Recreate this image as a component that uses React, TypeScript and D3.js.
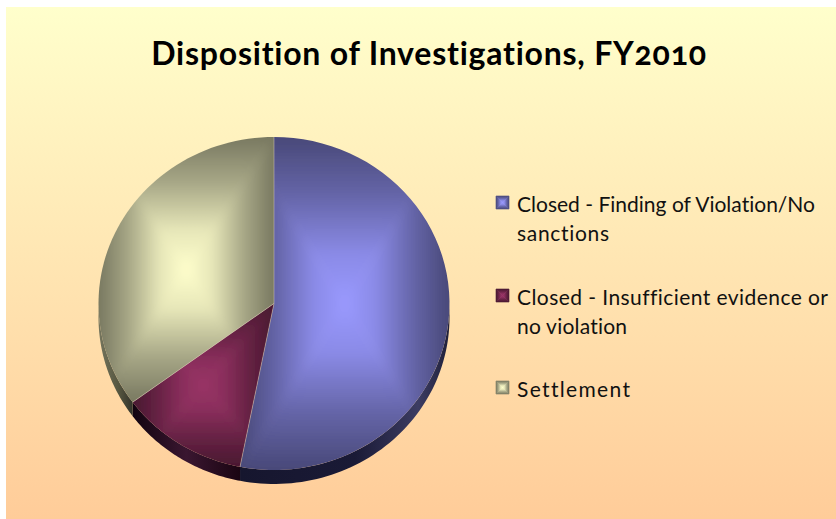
import React from 'react';
import * as d3 from 'd3';

const categories = ['Closed - Finding of Violation/No sanctions', 'Closed - Insufficient evidence or no violation', 'Settlement'];
const values = [53.1, 11.8, 35.1];
const legendLines = [['Closed - Finding of Violation/No', 'sanctions'], ['Closed - Insufficient evidence or', 'no violation'], ['Settlement']];
const legendWidths = [[298, 92], [311, 110], [113]];
const baseColors = ['#9999ff', '#993366', '#ffffcc'];
const title = 'Disposition of Investigations, FY2010';

const width = 836;
const height = 519;
const cx = 274;
const cy = 303.5;
const rx = 175.5;
const ry = 166.5;
const depth = 14;

const pie = d3.pie<number>().sort(null).startAngle(0).endAngle(2 * Math.PI);
const arcs = pie(values);

const pt = (a: number, dy = 0): [number, number] => [cx + rx * Math.sin(a), cy - ry * Math.cos(a) + dy];
const line = d3.line();
const sample = (a0: number, a1: number) => d3.range(0, 61).map(i => a0 + (a1 - a0) * i / 60);

const shade = (c: string, k: number) => {
  const r = d3.rgb(c);
  return d3.rgb(r.r * k, r.g * k, r.b * k).formatHex();
};

// rectangular "path" gradient, four triangles meeting at the box centre
function RectGlow({ id, box, color, clip, blur }: { id: string; box: number[]; color: string; clip?: string; blur?: number }) {
  const [x0, y0, x1, y1] = box;
  const fx = (x0 + x1) / 2;
  const fy = (y0 + y1) / 2;
  // corners pushed outwards so the blur has something to eat at the box edge
  const out = (x: number, y: number): [number, number] => blur ? [fx + (x - fx) * 1.3, fy + (y - fy) * 1.3] : [x, y];
  const sides = [
    { pts: [out(x0, y0), out(x1, y0), [fx, fy]], g: [fx, y0, fx, fy] },
    { pts: [out(x1, y0), out(x1, y1), [fx, fy]], g: [x1, fy, fx, fy] },
    { pts: [out(x1, y1), out(x0, y1), [fx, fy]], g: [fx, y1, fx, fy] },
    { pts: [out(x0, y1), out(x0, y0), [fx, fy]], g: [x0, fy, fx, fy] },
  ];
  return (
    <g clipPath={clip}>
      <defs>
        {sides.map((s, i) => (
          <linearGradient key={i} id={`${id}-${i}`} gradientUnits="userSpaceOnUse" x1={s.g[0]} y1={s.g[1]} x2={s.g[2]} y2={s.g[3]}>
            <stop offset="0" stopColor={shade(color, 0.47)} />
            <stop offset="0.35" stopColor={shade(color, 0.66)} />
            <stop offset="0.7" stopColor={shade(color, 0.9)} />
            <stop offset="1" stopColor={color} />
          </linearGradient>
        ))}
        {blur ? <filter id={`${id}-soft`} x="-10%" y="-10%" width="120%" height="120%"><feGaussianBlur stdDeviation={blur} /></filter> : null}
      </defs>
      <g filter={blur ? `url(#${id}-soft)` : undefined}>
        {sides.map((s, i) => (
          <path key={i} d={line(s.pts as [number, number][]) + 'Z'} fill={`url(#${id}-${i})`} stroke={`url(#${id}-${i})`} strokeWidth={0.6} />
        ))}
      </g>
    </g>
  );
}

const wallStops = [
  [[0, '#16162e'], [0.55, '#1a1a36'], [0.85, '#3c3c62'], [1, '#20203a']],
  [[0, '#120410'], [0.5, '#3a1630'], [1, '#1a0512']],
  [[0, '#76765e'], [0.6, '#55553f'], [1, '#33332a']],
] as [number, string][][];

export default function App() {
  const faces = arcs.map(d => {
    const arcPts = sample(d.startAngle, d.endAngle).map(a => pt(a));
    const all: [number, number][] = [[cx, cy], ...arcPts];
    const xs = all.map(p => p[0]);
    const ys = all.map(p => p[1]);
    return { d: line(all) + 'Z', box: [d3.min(xs)!, d3.min(ys)!, d3.max(xs)!, d3.max(ys)!] };
  });

  // only the part of each slice facing down gets a visible wall
  const walls = arcs.map(d => {
    const a0 = Math.max(d.startAngle, Math.PI / 2);
    const a1 = Math.min(d.endAngle, Math.PI * 1.5);
    const angles = sample(a0, a1);
    const top = angles.map(a => pt(a));
    const bottom = angles.map(a => pt(a, depth)).reverse();
    const xs = top.map(p => p[0]);
    return { d: line([...top, ...bottom]) + 'Z', x0: d3.min(xs)!, x1: d3.max(xs)! };
  });

  const legendY = [212, 305, 397];

  return (
    <svg width={width} height={height} style={{ position: 'absolute', left: 0, top: 0 }}>
      <defs>
        <linearGradient id="bg" x1="0" y1="0" x2="0" y2="1">
          <stop offset="0" stopColor="#ffffcc" />
          <stop offset="1" stopColor="#ffcc99" />
        </linearGradient>
        {faces.map((f, i) => (
          <clipPath key={i} id={`slice-${i}`}><path d={f.d} /></clipPath>
        ))}
        {walls.map((w, i) => (
          <linearGradient key={i} id={`wall-${i}`} gradientUnits="userSpaceOnUse" x1={w.x0} y1={0} x2={w.x1} y2={0}>
            {wallStops[i].map(([o, c]) => <stop key={o} offset={o} stopColor={c} />)}
          </linearGradient>
        ))}
      </defs>
      <rect width={width} height={height} fill="#fff" />
      <rect x={6} y={7} width={width - 6} height={height - 7} fill="url(#bg)" />

      <text x={429} y={65} textAnchor="middle" fontFamily="Lato" fontWeight={700} fontSize={32} letterSpacing={0.77}
        style={{ fontVariantNumeric: 'oldstyle-nums', fontVariantLigatures: 'none' }}>{title}</text>

      {walls.map((w, i) => <path key={i} d={w.d} fill={`url(#wall-${i})`} />)}
      {faces.map((f, i) => (
        <RectGlow key={i} id={`face-${i}`} box={f.box} color={baseColors[i]} clip={`url(#slice-${i})`} blur={5} />
      ))}
      {arcs.map((d, i) => (
        <path key={i} d={line([[cx, cy], pt(d.startAngle)])!} stroke="#d8cdbd" strokeOpacity={0.6} strokeWidth={0.8} fill="none" />
      ))}

      {categories.map((c, i) => (
        <g key={c}>
          <RectGlow id={`key-${i}`} box={[496, legendY[i] - 16, 509, legendY[i] - 3]} color={baseColors[i]} />
          {legendLines[i].map((l, j) => (
            <text key={j} x={517} y={legendY[i] + j * 29} fontFamily="Lato" fontSize={21} fill="#111"
              textLength={legendWidths[i][j]} lengthAdjust="spacing" style={{ fontVariantLigatures: 'none' }}>{l}</text>
          ))}
        </g>
      ))}
    </svg>
  );
}
